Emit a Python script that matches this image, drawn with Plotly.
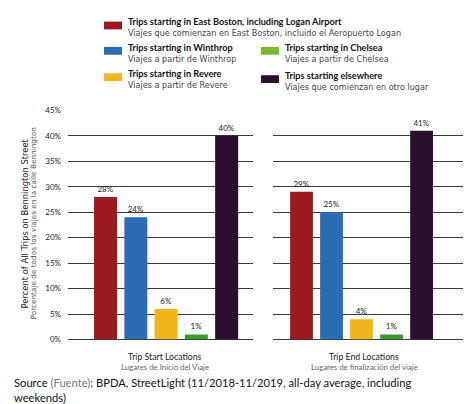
import plotly.graph_objects as go

# Data
series_en = [
    "Trips starting in East Boston, including Logan Airport",
    "Trips starting in Winthrop",
    "Trips starting in Chelsea",
    "Trips starting in Revere",
    "Trips starting elsewhere",
]
series_es = [
    "Viajes que comienzan en East Boston, incluido el Aeropuerto Logan",
    "Viajes a partir de Winthrop",
    "Viajes a partir de Chelsea",
    "Viajes a partir de Revere",
    "Viajes que comienzan en otro lugar",
]
# bar order inside each panel: East Boston, Winthrop, Revere, Chelsea, elsewhere
bar_order = [0, 1, 3, 2, 4]
start_values = [28, 24, 6, 1, 40]
end_values = [29, 25, 4, 1, 41]
panel_en = ["Trip Start Locations", "Trip End Locations"]
panel_es = ["Lugares de Inicio del Viaje", "Lugares de finalización del viaje"]
y_ticks = [0, 5, 10, 15, 20, 25, 30, 35, 40, 45]

colors = ["#9c1a1f", "#2a6db5", "#3a9a32", "#f0b61c", "#2c0e2f"]
legend_colors = ["#9c1a1f", "#2a6db5", "#78bb2c", "#f0b61c", "#2c0e2f"]
bar_colors = [colors[i] for i in bar_order]

FONT = "Lato"
FONT_WIDE = "DejaVu Sans"
W, H = 464, 404

def px(x):
    return x / W

def py(y):
    return 1 - y / H

fig = go.Figure()

positions = list(range(len(bar_order)))
for vals, xa, ya in [(start_values, "x", "y"), (end_values, "x2", "y2")]:
    fig.add_trace(go.Bar(
        x=positions, y=vals, xaxis=xa, yaxis=ya,
        marker=dict(color=bar_colors, line=dict(width=0)),
        width=0.76,
        text=[f"{v}%" for v in vals], textposition="outside",
        textfont=dict(family=FONT, size=8, color="#222"),
        cliponaxis=False, showlegend=False, hoverinfo="skip",
    ))

grid = dict(showgrid=True, gridcolor="#3a3a3a", gridwidth=1,
            zeroline=True, zerolinecolor="#3a3a3a", zerolinewidth=1,
            range=[0, 45], tickvals=y_ticks, fixedrange=True)

fig.update_layout(
    width=W, height=H,
    margin=dict(l=0, r=0, t=0, b=0),
    paper_bgcolor="white", plot_bgcolor="white",
    showlegend=False,
    xaxis=dict(domain=[px(68), px(253)], range=[-1.24, 4.87], visible=False),
    xaxis2=dict(domain=[px(273), px(463)], range=[-0.95, 5.38], visible=False),
    yaxis=dict(domain=[py(343), py(108)], anchor="x",
               ticktext=[f"{t}%" for t in y_ticks], ticks="",
               tickfont=dict(family=FONT, size=8, color="#222"),
               ticklabelstandoff=6, **grid),
    yaxis2=dict(domain=[py(343), py(108)], anchor="x2", showticklabels=False, **grid),
)

annotations = []
shapes = []

# Legend: swatch + bilingual label (x of swatch, y of swatch centre)
legend_pos = {
    0: (104, 21),
    1: (104, 47),
    3: (104, 74),
    2: (261, 47),
    4: (261, 76),
}
for i, (x0, yc) in legend_pos.items():
    shapes.append(dict(type="rect", xref="paper", yref="paper",
                       x0=px(x0), x1=px(x0 + 18), y0=py(yc - 4), y1=py(yc + 4),
                       fillcolor=legend_colors[i], line=dict(width=0)))
    annotations.append(dict(
        xref="paper", yref="paper", x=px(x0 + 22), y=py(yc - 3.8),
        xanchor="left", yanchor="middle", showarrow=False,
        text=f"<b>{series_en[i]}</b>",
        font=dict(family=FONT, size=9.2, color="#111")))
    annotations.append(dict(
        xref="paper", yref="paper", x=px(x0 + 22), y=py(yc + 8),
        xanchor="left", yanchor="middle", showarrow=False,
        text=series_es[i],
        font=dict(family=FONT_WIDE, size=8.1, color="#444")))

# Y-axis title, bilingual
annotations.append(dict(
    xref="paper", yref="paper", x=px(25), y=py(224), textangle=-90,
    showarrow=False, xanchor="center", yanchor="middle",
    text="Percent of All Trips on Bennington Street",
    font=dict(family=FONT_WIDE, size=8.4, color="#222")))
annotations.append(dict(
    xref="paper", yref="paper", x=px(33), y=py(224), textangle=-90,
    showarrow=False, xanchor="center", yanchor="middle",
    text="Porcentaje de todos los viajes en la calle Bennington",
    font=dict(family=FONT_WIDE, size=7.3, color="#555")))

# Panel labels
for cx, en, es in zip([165, 364], panel_en, panel_es):
    annotations.append(dict(
        xref="paper", yref="paper", x=px(cx), y=py(360),
        showarrow=False, xanchor="center", yanchor="middle",
        text=en, font=dict(family=FONT, size=8.7, color="#222")))
    annotations.append(dict(
        xref="paper", yref="paper", x=px(cx), y=py(371),
        showarrow=False, xanchor="center", yanchor="middle",
        text=es, font=dict(family=FONT, size=7.8, color="#666")))

# Source note
annotations.append(dict(
    xref="paper", yref="paper", x=px(12), y=py(378),
    showarrow=False, xanchor="left", yanchor="top", align="left",
    text=("Source <span style='color:#777'>(Fuente)</span>: BPDA, StreetLight "
          "(11/2018-11/2019, all-day average, including<br>weekends)"),
    font=dict(family=FONT, size=11.2, color="#111")))

fig.update_layout(annotations=annotations, shapes=shapes)

fig.write_html("out.html")
